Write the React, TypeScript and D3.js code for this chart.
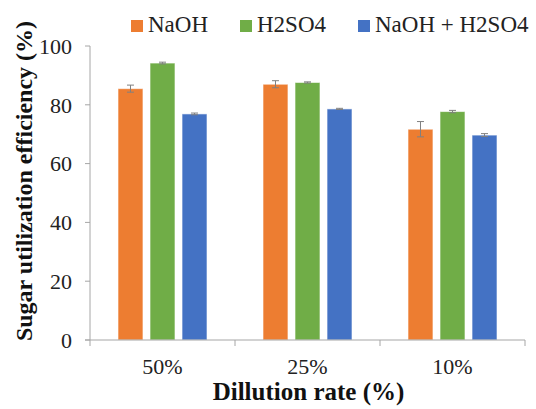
import React from "react";
import * as d3 from "d3";

const categories = ["50%", "25%", "10%"];
const seriesNames = ["NaOH", "H2SO4", "NaOH + H2SO4"];
const seriesColors = ["#ED7D31", "#70AD47", "#4472C4"];
const naohValues = [85.5, 87.0, 71.7];
const naohErrors = [1.2, 1.2, 2.6];
const h2so4Values = [94.2, 87.6, 77.7];
const h2so4Errors = [0.3, 0.2, 0.4];
const mixValues = [76.9, 78.6, 69.7];
const mixErrors = [0.3, 0.2, 0.5];
const yTicks = [0, 20, 40, 60, 80, 100];

const seriesValues = [naohValues, h2so4Values, mixValues];
const seriesErrors = [naohErrors, h2so4Errors, mixErrors];

const W = 536;
const H = 409;
const margin = { left: 90, right: 11, top: 46, bottom: 69 };
const serif = "'Liberation Serif', 'Times New Roman', serif";
const axisColor = "#a6a6a6";

export default function App() {
  const x = d3
    .scaleBand<string>()
    .domain(categories)
    .range([margin.left, W - margin.right]);
  const inner = d3
    .scaleBand<string>()
    .domain(seriesNames)
    .range([28, x.bandwidth() - 28])
    .paddingInner(0.22);
  const y = d3
    .scaleLinear()
    .domain([0, 100])
    .range([H - margin.bottom, margin.top]);

  const baseY = y(0);
  const boundaries = categories.map((c) => x(c)!).concat([W - margin.right]);

  const legendX = [131, 240, 358];

  return (
    <svg
      width={W}
      height={H}
      style={{ position: "absolute", left: 0, top: 0, background: "#fff" }}
      fontFamily={serif}
    >
      {/* bars */}
      {seriesNames.map((s, si) => (
        <g key={s}>
          {categories.map((c, ci) => {
            const v = seriesValues[si][ci];
            const bx = x(c)! + inner(s)!;
            return (
              <rect
                key={c}
                x={bx}
                y={y(v)}
                width={inner.bandwidth()}
                height={baseY - y(v)}
                fill={seriesColors[si]}
                stroke="#ffffff"
                strokeOpacity={0.6}
                strokeWidth={1}
              />
            );
          })}
        </g>
      ))}

      {/* error bars */}
      {seriesNames.map((s, si) => (
        <g key={s + "-err"} stroke="#808080" strokeWidth={1}>
          {categories.map((c, ci) => {
            const v = seriesValues[si][ci];
            const e = seriesErrors[si][ci];
            const cx = x(c)! + inner(s)! + inner.bandwidth() / 2;
            return (
              <g key={c}>
                <line x1={cx} x2={cx} y1={y(v + e)} y2={y(v - e)} />
                <line x1={cx - 3.5} x2={cx + 3.5} y1={y(v + e)} y2={y(v + e)} />
                <line x1={cx - 3.5} x2={cx + 3.5} y1={y(v - e)} y2={y(v - e)} />
              </g>
            );
          })}
        </g>
      ))}

      {/* y axis */}
      <line x1={margin.left} x2={margin.left} y1={y(100)} y2={baseY} stroke={axisColor} />
      {yTicks.map((t) => (
        <g key={t}>
          <line x1={margin.left - 5} x2={margin.left} y1={y(t)} y2={y(t)} stroke={axisColor} />
          <text
            x={72}
            y={y(t)}
            dy="0.35em"
            textAnchor="end"
            fontSize={22}
            fill="#222"
          >
            {t}
          </text>
        </g>
      ))}

      {/* x axis */}
      <line x1={margin.left - 5} x2={W - margin.right} y1={baseY} y2={baseY} stroke={axisColor} />
      {boundaries.map((bx, i) => (
        <line key={i} x1={bx} x2={bx} y1={baseY} y2={baseY + 6} stroke={axisColor} />
      ))}
      {categories.map((c) => (
        <text
          key={c}
          x={x(c)! + x.bandwidth() / 2}
          y={374}
          textAnchor="middle"
          fontSize={22}
          fill="#222"
        >
          {c}
        </text>
      ))}

      {/* axis titles */}
      <text
        x={(margin.left + W - margin.right) / 2 + 1}
        y={400}
        textAnchor="middle"
        fontSize={25}
        fontWeight="bold"
        fill="#111"
      >
        Dillution rate (%)
      </text>
      <text
        transform={`translate(32, 181) rotate(-90)`}
        textAnchor="middle"
        fontSize={24}
        fontWeight="bold"
        fill="#111"
      >
        Sugar utilization efficiency (%)
      </text>

      {/* legend */}
      {seriesNames.map((s, i) => (
        <g key={s + "-leg"}>
          <rect x={legendX[i]} y={20} width={12} height={12} fill={seriesColors[i]} />
          <text x={legendX[i] + 17} y={32} fontSize={23} fill="#222">
            {s}
          </text>
        </g>
      ))}
    </svg>
  );
}
